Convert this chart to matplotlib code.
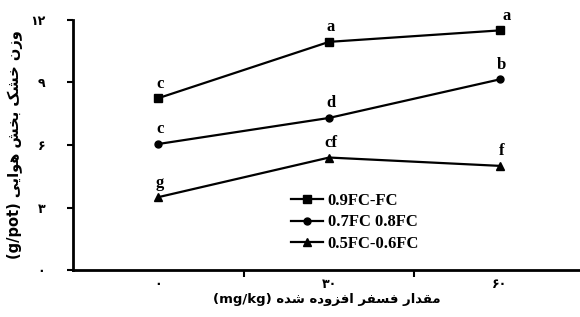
import matplotlib
matplotlib.use("Agg")
import matplotlib.pyplot as plt

# data
rates = ["۰", "۳۰", "۶۰"]
fc_09 = [8.25, 10.95, 11.5]
fc_07 = [6.05, 7.3, 9.15]
fc_05 = [3.5, 5.4, 5.0]
let_09 = ["c", "a", "a"]
let_07 = ["c", "d", "b"]
let_05 = ["g", "cf", "f"]
names = ["0.9FC-FC", "0.7FC 0.8FC", "0.5FC-0.6FC"]
yticks = [0, 3, 6, 9, 12]
ytick_labels = ["۰", "۳", "۶", "۹", "۱۲"]

# simple persian shaping (isolated, final, initial, medial) -> visual order
FORMS = {
    'ا': ('\uFE8D', '\uFE8E', None, None),
    'ب': ('\uFE8F', '\uFE90', '\uFE91', '\uFE92'),
    'خ': ('\uFEA5', '\uFEA6', '\uFEA7', '\uFEA8'),
    'د': ('\uFEA9', '\uFEAA', None, None),
    'ر': ('\uFEAD', '\uFEAE', None, None),
    'ز': ('\uFEAF', '\uFEB0', None, None),
    'س': ('\uFEB1', '\uFEB2', '\uFEB3', '\uFEB4'),
    'ش': ('\uFEB5', '\uFEB6', '\uFEB7', '\uFEB8'),
    'ف': ('\uFED1', '\uFED2', '\uFED3', '\uFED4'),
    'ق': ('\uFED5', '\uFED6', '\uFED7', '\uFED8'),
    'م': ('\uFEE1', '\uFEE2', '\uFEE3', '\uFEE4'),
    'ن': ('\uFEE5', '\uFEE6', '\uFEE7', '\uFEE8'),
    'ه': ('\uFEE9', '\uFEEA', '\uFEEB', '\uFEEC'),
    'و': ('\uFEED', '\uFEEE', None, None),
    'ک': ('\uFB8E', '\uFB8F', '\uFB90', '\uFB91'),
    'ی': ('\uFBFC', '\uFBFD', '\uFBFE', '\uFBFF'),
}

def shape(text):
    out = []
    for i, ch in enumerate(text):
        if ch not in FORMS:
            out.append(ch)
            continue
        prev = text[i-1] if i > 0 else ''
        nxt = text[i+1] if i + 1 < len(text) else ''
        jp = prev in FORMS and FORMS[prev][2] is not None
        jn = nxt in FORMS and FORMS[ch][2] is not None
        iso, fin, ini, med = FORMS[ch]
        if jp and jn:
            out.append(med)
        elif jp:
            out.append(fin)
        elif jn:
            out.append(ini)
        else:
            out.append(iso)
    return ''.join(reversed(out))

ylabel = "(g/pot) " + shape("وزن خشک بخش هوایی")
xlabel = "(mg/kg) " + shape("مقدار فسفر افزوده شده")

serif = "Liberation Serif"

fig = plt.figure(figsize=(5.8, 3.17), dpi=100)
ax = fig.add_axes([0.126, 0.148, 0.874, 0.789])

x = range(len(rates))
ax.plot(x, fc_09, color="black", lw=1.6, marker="s", ms=6, label=names[0])
ax.plot(x, fc_07, color="black", lw=1.6, marker="o", ms=5, label=names[1])
ax.plot(x, fc_05, color="black", lw=1.6, marker="^", ms=5.5, label=names[2])

for vals, lets in [(fc_09, let_09), (fc_07, let_07), (fc_05, let_05)]:
    for i, (v, t) in enumerate(zip(vals, lets)):
        dx = 5 if i == 2 and t == "a" else 1
        ax.annotate(t, (i, v), xytext=(dx, 10.5), textcoords="offset points",
                    ha="center", va="center", fontsize=12, fontweight="bold",
                    family=serif)

ax.set_xlim(-0.5, 2.47)
ax.set_ylim(0, 12)
ax.set_yticks(yticks)
ax.set_yticklabels(ytick_labels, fontsize=9, fontweight="bold", family="DejaVu Sans")
ax.set_xticks([0.5, 1.5])
ax.set_xticklabels([])
ax.set_xticks([0, 1, 2], minor=True)
ax.set_xticklabels(rates, minor=True, fontsize=9, fontweight="bold", family="DejaVu Sans")
ax.tick_params(axis="x", which="minor", length=0, pad=6)
ax.tick_params(axis="x", which="major", direction="out", length=5, width=1.5)
ax.tick_params(axis="y", direction="out", length=4, width=1.5, pad=16)

for s in ["top", "right"]:
    ax.spines[s].set_visible(False)
for s in ["left", "bottom"]:
    ax.spines[s].set_linewidth(2)

ax.set_ylabel(ylabel, fontsize=10.5, fontweight="bold", family="DejaVu Sans", labelpad=5)
ax.set_xlabel(xlabel, fontsize=9.5, fontweight="bold", family="DejaVu Sans", labelpad=1)

ax.legend(loc="upper left", bbox_to_anchor=(0.43, 0.31), frameon=False,
          prop={"family": serif, "weight": "bold", "size": 12},
          handlelength=1.9, handletextpad=0.3, labelspacing=0.35,
          borderpad=0, borderaxespad=0)

fig.savefig("out.png", dpi=100)
